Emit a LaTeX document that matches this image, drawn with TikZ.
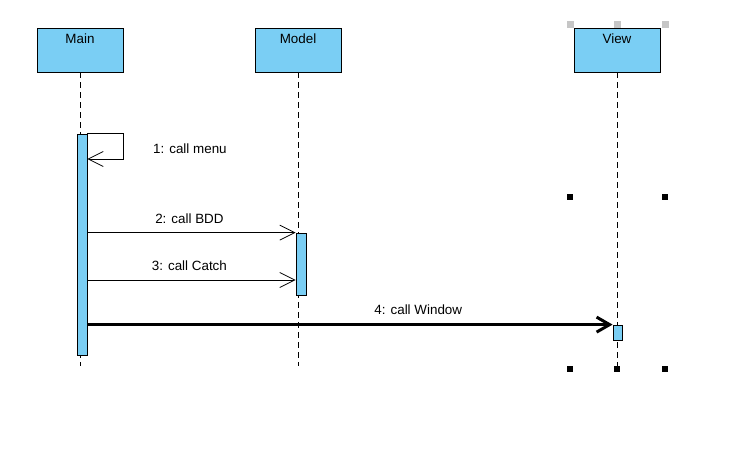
\documentclass[tikz,border=0pt]{standalone}
\usepackage{fontspec}
\setmainfont{Liberation Sans}
\usetikzlibrary{arrows.meta,positioning}
\definecolor{lifeblue}{RGB}{122,206,244}
\tikzset{
  objbox/.style={draw,fill=lifeblue,line width=0.8pt,minimum width=86pt,minimum height=44pt,inner sep=0pt},
  actbox/.style={draw,fill=lifeblue,line width=0.8pt,minimum width=10pt,inner sep=0pt},
  lifeline/.style={line width=0.8pt,dash pattern=on 6pt off 4pt},
  msg/.style={line width=0.8pt,-{Straight Barb[length=15pt 0,width=15pt 0]}},
  bigmsg/.style={line width=3pt,-{Straight Barb[length=13pt 0,width=15pt 0]}},
  lbl/.style={inner sep=0pt,font=\fontsize{13.4}{15}\selectfont}
}
\begin{document}
\begin{tikzpicture}[x=1pt,y=-1pt]
     \useasboundingbox (0,0) rectangle (741,466);
     \node[objbox] (main)  at ( 80,50) {};
     \node[objbox] (model) at (298,50) {};
     \node[objbox] (view)  at (617,50) {};
     \node[lbl,below=5.5pt of main.north]  {Main};
     \node[lbl,below=5.5pt of model.north] {Model};
     \node[lbl,below=5.5pt of view.north]  {View};
     \coordinate (mainend)  at ( 80,366);
     \coordinate (modelend) at (298,366);
     \coordinate (viewend)  at (617,369);
     \draw[lifeline] (main.south)  -- (mainend);
     \draw[lifeline] (model.south) -- (modelend);
     \draw[lifeline] (view.south)  -- (viewend);
     \node[actbox,minimum height=221pt] (mainact)  at ( 82,244.5) {};
     \node[actbox,minimum height=62pt]  (modelact) at (301,264) {};
     \node[actbox,minimum width=9pt,minimum height=15pt] (viewact) at (617.5,332.5) {};
     \coordinate (menuturn) at (123,159);
     \draw[msg] (mainact.north east) -| (menuturn) -- (mainact.east |- menuturn);
     \node[lbl,anchor=west] (menulbl) at (153,149) {1: call menu};
     \draw[msg] (mainact.east |- modelact.north) -- (modelact.north west)
          node[lbl,pos=0.49,above=9pt] {2: call BDD};
     \draw[msg] (mainact.east |- 0,280) -- (modelact.west |- 0,280)
          node[lbl,pos=0.49,above=9pt] {3: call Catch};
     \draw[bigmsg] (mainact.east |- viewact.north) -- (viewact.north west)
          node[lbl,pos=0.63,above=8pt] {4: call Window};
     \foreach \hx in {570,617.5,665}
          \fill[gray!45] (\hx-3.5,21) rectangle (\hx+3.5,28);
     \foreach \hx/\hy in {570/197,665/197,570/369,617/369,665/369}
          \fill[black] (\hx-3,\hy-3) rectangle (\hx+3,\hy+3);
\end{tikzpicture}
\end{document}
